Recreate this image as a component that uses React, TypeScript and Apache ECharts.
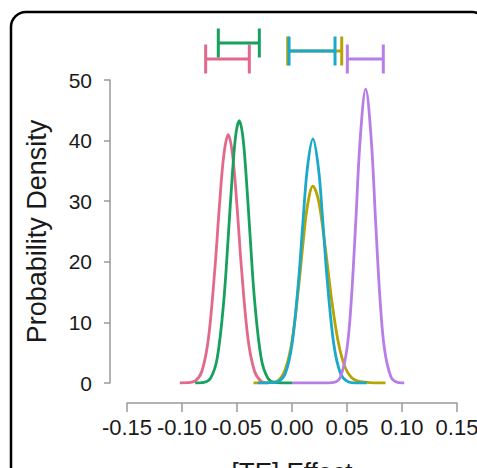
import React, { useEffect, useRef } from "react";
import * as echarts from "echarts";

// Density curves (x = [TE] effect, y = probability density)
const pinkX = [-0.102, -0.095, -0.088, -0.082, -0.076, -0.070, -0.066, -0.062, -0.058, -0.054, -0.050, -0.046, -0.040, -0.034, -0.028, -0.022];
const pinkY = [0, 0.05, 0.34, 1.9, 7.3, 19.1, 29.2, 37.6, 41, 37.6, 29.2, 19.1, 7.3, 1.9, 0.3, 0];

const greenX = [-0.088, -0.080, -0.074, -0.068, -0.062, -0.058, -0.054, -0.051, -0.048, -0.045, -0.042, -0.038, -0.034, -0.028, -0.022, -0.016, -0.008, 0.0];
const greenY = [0, 0.1, 0.8, 4.1, 13.6, 24.0, 35.0, 41.1, 43.3, 41.1, 35.0, 24.0, 13.6, 4.1, 0.8, 0.1, 0, 0];

const oliveX = [-0.035, -0.020, -0.012, -0.006, 0.000, 0.006, 0.010, 0.014, 0.019, 0.024, 0.030, 0.036, 0.042, 0.048, 0.054, 0.060, 0.068, 0.076, 0.085];
const oliveY = [0, 0.05, 0.5, 2.3, 6.9, 15.8, 23.0, 29.2, 32.5, 30.2, 22.7, 13.8, 6.8, 2.7, 0.9, 0.3, 0.1, 0, 0];

const blueX = [-0.031, -0.020, -0.012, -0.006, 0.000, 0.006, 0.010, 0.014, 0.019, 0.024, 0.028, 0.032, 0.038, 0.044, 0.050, 0.058, 0.068];
const blueY = [0, 0.05, 0.3, 1.6, 6.4, 17.0, 26.7, 35.5, 40.3, 35.5, 26.7, 17.0, 6.4, 1.6, 0.3, 0, 0];

const purpleX = [0.000, 0.030, 0.038, 0.044, 0.050, 0.054, 0.058, 0.062, 0.067, 0.072, 0.076, 0.080, 0.084, 0.090, 0.096, 0.102];
const purpleY = [0, 0, 0.1, 1.0, 5.7, 13.9, 26.7, 40.3, 48.5, 40.3, 26.7, 13.9, 5.7, 1.0, 0.1, 0];

// Credible intervals shown above the plot: [lower, upper, row]
const pinkCI = [-0.0785, -0.0388, 1];
const greenCI = [-0.067, -0.0297, 3];
const oliveCI = [-0.0039, 0.0452, 2];
const blueCI = [-0.0027, 0.0391, 2];
const purpleCI = [0.0503, 0.083, 1];

const xTicks = [-0.15, -0.1, -0.05, 0, 0.05, 0.1, 0.15];
const yTicks = [0, 10, 20, 30, 40, 50];

const COLORS = {
  pink: "#e2698b",
  green: "#17a05e",
  olive: "#b9a300",
  blue: "#1aa8cb",
  purple: "#b67ee6",
};

const FONT = "Liberation Sans, Arial, sans-serif";

function pairs(xs: number[], ys: number[]) {
  return xs.map((x, i) => [x, ys[i]]);
}

function ciSeries(name: string, ci: number[], color: string) {
  return {
    name,
    type: "custom",
    xAxisIndex: 1,
    yAxisIndex: 1,
    silent: true,
    data: [ci],
    renderItem: (_params: any, api: any) => {
      const lo = api.coord([api.value(0), api.value(2)]);
      const hi = api.coord([api.value(1), api.value(2)]);
      const h = 14.5;
      const style = { stroke: color, lineWidth: 3 };
      return {
        type: "group",
        children: [
          { type: "line", shape: { x1: lo[0], y1: lo[1], x2: hi[0], y2: hi[1] }, style },
          { type: "line", shape: { x1: lo[0], y1: lo[1] - h, x2: lo[0], y2: lo[1] + h }, style },
          { type: "line", shape: { x1: hi[0], y1: hi[1] - h, x2: hi[0], y2: hi[1] + h }, style },
        ],
      };
    },
  };
}

function densitySeries(name: string, xs: number[], ys: number[], color: string) {
  return {
    name,
    type: "line",
    xAxisIndex: 0,
    yAxisIndex: 0,
    data: pairs(xs, ys),
    smooth: 0.35,
    showSymbol: false,
    symbol: "none",
    lineStyle: { color, width: 2.8 },
    itemStyle: { color },
  };
}

export default function App() {
  const ref = useRef<HTMLDivElement>(null);
  useEffect(() => {
    document.body.style.margin = "0";
    const chart = echarts.init(ref.current!, undefined, { renderer: "svg" });
    const axisGrey = "#9a9a9a";
    chart.setOption({
      animation: false,
      backgroundColor: "#ffffff",
      textStyle: { fontFamily: FONT },
      graphic: [
        {
          type: "rect",
          shape: { x: 11, y: 12, width: 476, height: 490, r: 15 },
          style: { fill: "none", stroke: "#000", lineWidth: 2.5 },
          silent: true,
          z: 100,
        },
      ],
      grid: [
        { left: 127, right: 20, top: 80, bottom: 85, containLabel: false, outerBoundsMode: "none" },
        { left: 127, right: 20, top: 19, height: 48, containLabel: false, outerBoundsMode: "none" },
      ],
      xAxis: [
        {
          type: "value",
          gridIndex: 0,
          min: -0.15,
          max: 0.15,
          interval: 0.05,
          offset: 20,
          name: "[TE] Effect",
          nameLocation: "middle",
          nameGap: 56,
          nameTextStyle: { fontSize: 26, color: "#1a1a1a", fontFamily: FONT },
          axisLine: { show: true, onZero: false, lineStyle: { color: axisGrey, width: 1.5 } },
          axisTick: { show: true, length: 9, lineStyle: { color: axisGrey, width: 1.5 } },
          splitLine: { show: false },
          axisLabel: {
            interval: 0,
            margin: 13,
            fontSize: 22,
            color: "#1a1a1a",
            fontFamily: FONT,
            showMinLabel: true,
            showMaxLabel: true,
            formatter: (v: number) => {
              const t = xTicks.find((k) => Math.abs(k - v) < 1e-9);
              return (t !== undefined ? t : v).toFixed(2);
            },
          },
        },
        {
          type: "value",
          gridIndex: 1,
          min: -0.15,
          max: 0.15,
          show: false,
        },
      ],
      yAxis: [
        {
          type: "value",
          gridIndex: 0,
          min: 0,
          max: 50,
          interval: 10,
          offset: 17,
          name: "Probability Density",
          nameLocation: "middle",
          nameGap: 60,
          nameTextStyle: { fontSize: 27, color: "#1a1a1a", fontFamily: FONT },
          axisLine: { show: true, onZero: false, lineStyle: { color: axisGrey, width: 1.5 } },
          axisTick: { show: true, length: 6, lineStyle: { color: axisGrey, width: 1.5 } },
          splitLine: { show: false },
          axisLabel: {
            margin: 18,
            fontSize: 21,
            color: "#1a1a1a",
            fontFamily: FONT,
            formatter: (v: number) => String(yTicks.find((k) => k === v) ?? v),
          },
        },
        {
          type: "value",
          gridIndex: 1,
          min: 0,
          max: 6,
          show: false,
        },
      ],
      series: [
        densitySeries("pink", pinkX, pinkY, COLORS.pink),
        densitySeries("green", greenX, greenY, COLORS.green),
        densitySeries("olive", oliveX, oliveY, COLORS.olive),
        densitySeries("blue", blueX, blueY, COLORS.blue),
        densitySeries("purple", purpleX, purpleY, COLORS.purple),
        ciSeries("pinkCI", pinkCI, COLORS.pink),
        ciSeries("greenCI", greenCI, COLORS.green),
        ciSeries("oliveCI", oliveCI, COLORS.olive),
        ciSeries("blueCI", blueCI, COLORS.blue),
        ciSeries("purpleCI", purpleCI, COLORS.purple),
      ],
    });
    return () => chart.dispose();
  }, []);
  return <div ref={ref} style={{ width: 477, height: 468 }} />;
}
